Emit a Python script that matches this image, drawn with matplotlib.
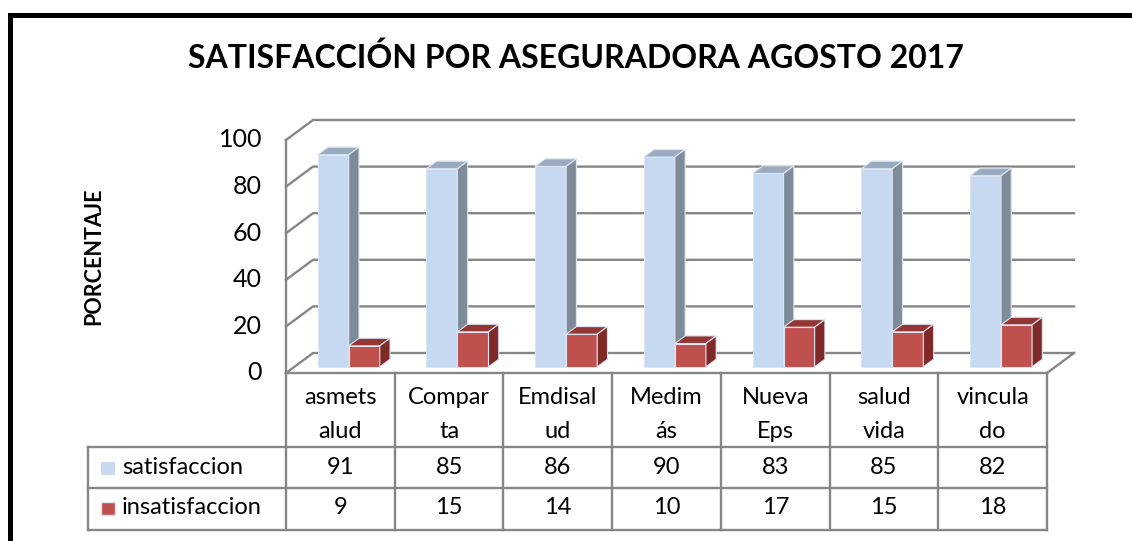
import matplotlib
matplotlib.use("Agg")
import matplotlib.pyplot as plt
from matplotlib.patches import Polygon, Rectangle
from matplotlib.transforms import blended_transform_factory

# ---- data ----
categories = ["asmets\nalud", "Compar\nta", "Emdisal\nud", "Medim\nás",
              "Nueva\nEps", "salud\nvida", "vincula\ndo"]
satisfaccion = [91, 85, 86, 90, 83, 85, 82]
insatisfaccion = [9, 15, 14, 10, 17, 15, 18]
series_names = ["satisfaccion", "insatisfaccion"]
yticks = [0, 20, 40, 60, 80, 100]
title = "SATISFACCIÓN POR ASEGURADORA AGOSTO 2017"
ylabel = "PORCENTAJE"

FONT = ["Lato", "DejaVu Sans"]
plt.rcParams["font.family"] = FONT

W, H = 1132, 541
fig = plt.figure(figsize=(W / 100, H / 100), dpi=100)

# overlay axes in pixel coordinates (y down)
pix = fig.add_axes([0, 0, 1, 1])
pix.set_xlim(0, W)
pix.set_ylim(H, 0)
pix.axis("off")

# main chart axes: front plane of the 3D box
x0, x1 = 286, 1047
y_zero, y_hund = 373, 140
ax = fig.add_axes([x0 / W, (H - y_zero) / H, (x1 - x0) / W, (y_zero - y_hund) / H])
n = len(categories)
ax.set_xlim(0, n)
ax.set_ylim(0, 100)
ax.axis("off")

cat_px = (x1 - x0) / n
val_px = (y_zero - y_hund) / 100.0
DX = 27 / cat_px     # full depth in x data units
DY = 20 / val_px     # full depth in value units


def proj(x, v, d):
    return (x + d * DX, v + d * DY)


grid_c = "#868686"
grid_lw = 1.7

# walls / gridlines
for v in yticks:
    a = proj(0, v, 0)
    b = proj(0, v, 1)
    c = proj(n, v, 1)
    ax.plot([a[0], b[0], c[0]], [a[1], b[1], c[1]], color=grid_c, lw=grid_lw,
            clip_on=False, zorder=1, solid_joinstyle="miter")
ax.plot([0, 0], [0, 100], color=grid_c, lw=grid_lw, clip_on=False, zorder=1)
fr = proj(n, 0, 0)
br = proj(n, 0, 1)
ax.plot([fr[0], br[0]], [fr[1], br[1]], color=grid_c, lw=grid_lw, clip_on=False, zorder=1)
ax.plot([0, n], [0, 0], color=grid_c, lw=grid_lw, clip_on=False, zorder=1)

# tick labels
for v in yticks:
    ax.text(-0.22, v, str(v), ha="right", va="center", fontsize=18,
            color="black", clip_on=False)

# bars
bw = 0.2857
gap = (1 - 2 * bw) / 2
d0, d1 = 0.31, 0.69
colors = {
    "satisfaccion": ("#c6d9f1", "#9aabbf", "#7e8b99"),
    "insatisfaccion": ("#c0504d", "#943634", "#7f2a28"),
}
edge = "#dce6f2"
z = 3
for i in range(n):
    for k, (name, vals) in enumerate(zip(series_names, [satisfaccion, insatisfaccion])):
        v = vals[i]
        xl = i + gap + k * bw
        xr = xl + bw
        front, top, side = colors[name]
        fx, fy = proj(xl, 0, d0)
        ax.bar(fx, v, width=bw, bottom=fy, align="edge", color=front,
               edgecolor=edge, linewidth=0.8, zorder=z, clip_on=False)
        top_pts = [proj(xl, v, d0), proj(xr, v, d0), proj(xr, v, d1), proj(xl, v, d1)]
        ax.add_patch(Polygon(top_pts, closed=True, facecolor=top, edgecolor=edge,
                             linewidth=0.8, zorder=z, clip_on=False))
        side_pts = [proj(xr, 0, d0), proj(xr, v, d0), proj(xr, v, d1), proj(xr, 0, d1)]
        ax.add_patch(Polygon(side_pts, closed=True, facecolor=side, edgecolor=edge,
                             linewidth=0.8, zorder=z, clip_on=False))
        z += 1

# ---- data table ----
bt = blended_transform_factory(ax.transData, pix.transData)
leg_left = 88
row_top, row1, row2, row_bot = 373, 447, 488, 530
tc = "#868686"
for i in range(n + 1):
    pix.plot([i, i], [row_top, row_bot], color=tc, lw=1.7, transform=bt, clip_on=False)
for yy in (row1, row2, row_bot):
    pix.plot([leg_left, x1], [yy, yy], color=tc, lw=1.7, clip_on=False)
pix.plot([leg_left, leg_left], [row1, row_bot], color=tc, lw=1.7, clip_on=False)

tfs = 17
for i, lab in enumerate(categories):
    parts = lab.split("\n")
    ys = [397, 432] if len(parts) == 2 else [415]
    for p, yy in zip(parts, ys):
        pix.text(i + 0.5, yy, p, transform=bt, ha="center", va="center", fontsize=tfs)
    pix.text(i + 0.5, 467, str(satisfaccion[i]), transform=bt, ha="center",
             va="center", fontsize=tfs)
    pix.text(i + 0.5, 508, str(insatisfaccion[i]), transform=bt, ha="center",
             va="center", fontsize=tfs)

# legend keys
pix.add_patch(Rectangle((101, 462), 14, 13, facecolor=colors["satisfaccion"][0],
                        edgecolor="none"))
pix.add_patch(Rectangle((101, 502), 14, 13, facecolor=colors["insatisfaccion"][0],
                        edgecolor=edge, linewidth=1.0))
pix.text(122, 467, series_names[0], ha="left", va="center", fontsize=tfs)
pix.text(122, 508, series_names[1], ha="left", va="center", fontsize=tfs)

# title and axis label
pix.text(576, 58, title, ha="center", va="center", fontsize=23, fontweight="bold")
pix.text(94, 256, ylabel, ha="center", va="center", fontsize=15.5, fontweight="bold",
         rotation=90)

# outer border (left and top)
pix.plot([9.5, 9.5, W], [H, 15, 15], color="black", lw=3.6, solid_joinstyle="miter",
         clip_on=False)

fig.savefig("out.png", dpi=100)
